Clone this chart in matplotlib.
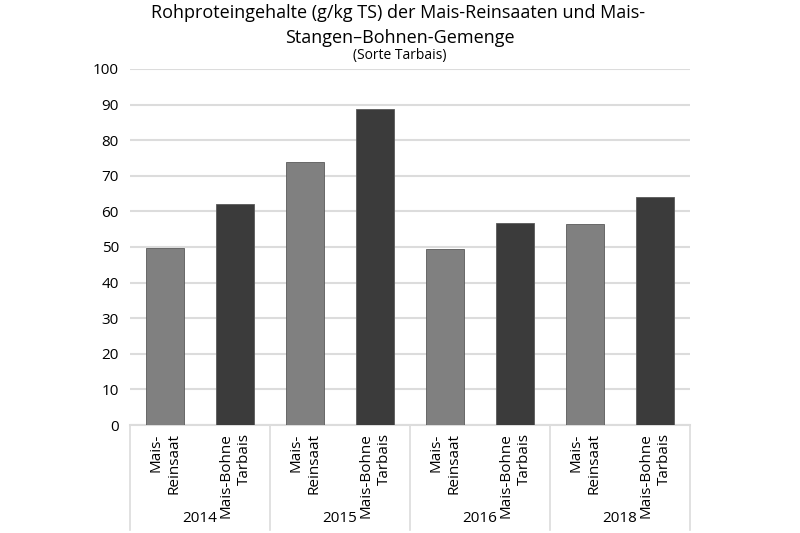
import numpy as np
import matplotlib.pyplot as plt

plt.rcParams['font.family'] = ['Open Sans', 'DejaVu Sans']

years = ["2014", "2015", "2016", "2018"]
varianten = ["Mais-\nReinsaat", "Mais-Bohne\nTarbais"]
reinsaat = [49.8, 74.0, 49.4, 56.5]
gemenge = [62.2, 88.8, 56.8, 64.0]

werte = []
labels = []
farben = []
for r, g in zip(reinsaat, gemenge):
    werte += [r, g]
    labels += varianten
    farben += ["#808080", "#3b3b3b"]

x = np.arange(len(werte))

fig = plt.figure(figsize=(8, 5.33), dpi=100)
ax = fig.add_axes([0.1625, 0.2026, 0.70, 0.668])

ax.bar(x, werte, width=0.55, color=farben, edgecolor="#5a5a5a", linewidth=0.6, zorder=3)

ax.set_xlim(-0.5, len(werte) - 0.5)
ax.set_ylim(0, 100)
ax.set_yticks(np.arange(0, 101, 10))
ax.yaxis.grid(True, color="#dcdcdc", linewidth=1.5, zorder=0)
ax.tick_params(axis="y", length=0, labelsize=11, colors="#000000", pad=8)

ax.set_xticks(x)
ax.set_xticklabels(labels, rotation=90, va="top", ha="center", multialignment="right",
                   fontsize=11, linespacing=1.35)
ax.tick_params(axis="x", length=0, pad=6)

for s in ["top", "right", "left"]:
    ax.spines[s].set_visible(False)
ax.spines["bottom"].set_color("#dcdcdc")
ax.spines["bottom"].set_linewidth(1.5)

# Trennlinien und Jahre unter der Achse
trans = ax.get_xaxis_transform()
for i in range(len(years) + 1):
    ax.plot([2 * i - 0.5, 2 * i - 0.5], [0, -0.295], color="#dcdcdc", linewidth=1.2,
            transform=trans, clip_on=False)
for i, y in enumerate(years):
    ax.text(2 * i + 0.5, -0.262, y, transform=trans, ha="center", va="center", fontsize=11)

fig.text(0.497, 0.992, "Rohproteingehalte (g/kg TS) der Mais-Reinsaaten und Mais-",
         ha="center", va="top", fontsize=13)
fig.text(0.5, 0.946, "Stangen\u2013Bohnen-Gemenge", ha="center", va="top", fontsize=13)
fig.text(0.5, 0.910, "(Sorte Tarbais)", ha="center", va="top", fontsize=10)

fig.savefig("out.png", dpi=100)
